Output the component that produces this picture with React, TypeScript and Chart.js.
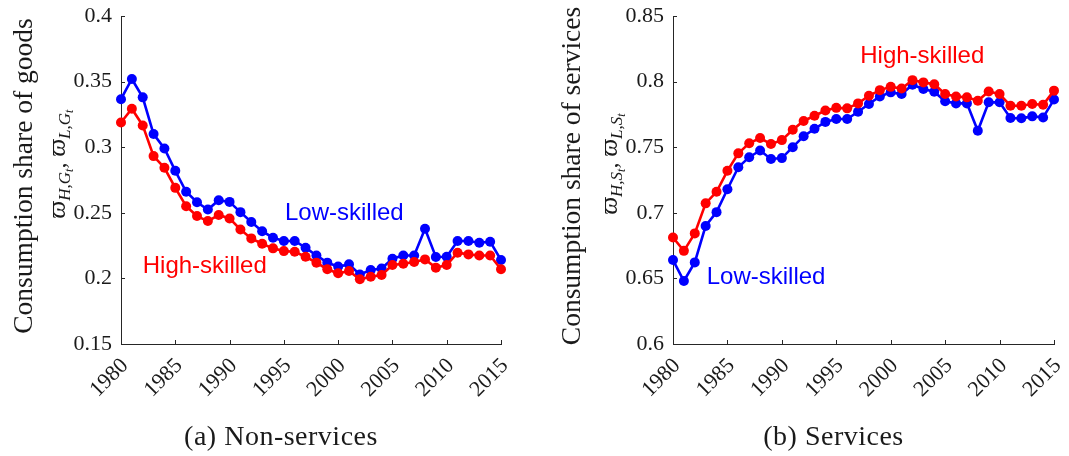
import React, { useEffect, useRef } from "react";
import { Chart, registerables } from "chart.js";

Chart.register(...registerables);

// ---------------- data ----------------
const years = [
  1980, 1981, 1982, 1983, 1984, 1985, 1986, 1987, 1988, 1989,
  1990, 1991, 1992, 1993, 1994, 1995, 1996, 1997, 1998, 1999,
  2000, 2001, 2002, 2003, 2004, 2005, 2006, 2007, 2008, 2009,
  2010, 2011, 2012, 2013, 2014, 2015,
];

const goodsLow = [
  0.3366, 0.352, 0.338, 0.31, 0.299, 0.282, 0.266, 0.258, 0.2525, 0.2596,
  0.2583, 0.2505, 0.243, 0.236, 0.231, 0.2285, 0.2285, 0.2234, 0.2175, 0.212,
  0.209, 0.2107, 0.203, 0.2064, 0.2075, 0.215, 0.2175, 0.2175, 0.2378, 0.2163,
  0.2165, 0.2285, 0.2285, 0.2272, 0.228, 0.214,
];

const goodsHigh = [
  0.3188, 0.3293, 0.3166, 0.2932, 0.2843, 0.269, 0.255, 0.2475, 0.2437, 0.2483,
  0.2457, 0.2373, 0.2305, 0.2264, 0.2229, 0.2208, 0.2203, 0.2165, 0.212, 0.207,
  0.2039, 0.2056, 0.1993, 0.2013, 0.2026, 0.2102, 0.2112, 0.2125, 0.2145, 0.2082,
  0.2102, 0.2196, 0.2183, 0.2175, 0.2175, 0.207,
];

const servLow = [
  0.664, 0.648, 0.6622, 0.69, 0.7005, 0.718, 0.7347, 0.7424, 0.7475, 0.741,
  0.7417, 0.75, 0.7584, 0.764, 0.7693, 0.7715, 0.7715, 0.777, 0.7829, 0.7887,
  0.7918, 0.7905, 0.7976, 0.7943, 0.7923, 0.785, 0.7834, 0.7834, 0.7625, 0.7842,
  0.7842, 0.7722, 0.772, 0.7735, 0.7727, 0.7863,
];

const servHigh = [
  0.6812, 0.671, 0.6843, 0.7072, 0.716, 0.732, 0.7453, 0.753, 0.757, 0.7524,
  0.7554, 0.7633, 0.77, 0.774, 0.778, 0.78, 0.7796, 0.7834, 0.7892, 0.7935,
  0.796, 0.7948, 0.8011, 0.7994, 0.798, 0.7905, 0.7887, 0.788, 0.7854, 0.7925,
  0.7905, 0.7816, 0.7816, 0.7829, 0.7823, 0.7931,
];

const xTicks = [1980, 1985, 1990, 1995, 2000, 2005, 2010, 2015];
const yTicksGoods = [0.15, 0.2, 0.25, 0.3, 0.35, 0.4];
const yTicksServ = [0.6, 0.65, 0.7, 0.75, 0.8, 0.85];

const seriesNames = ["High-skilled", "Low-skilled"];

// ---------------- styles ----------------
const BLUE = "#0000ff";
const RED = "#ff0000";
const AXIS = "#262626";
const TEXT = "#1a1a1a";
const SERIF = "'Liberation Serif', 'DejaVu Serif', serif";
const SANS = "'Liberation Sans', Arial, sans-serif";

type Label = { text: string; color: string; x: number; y: number };
type MathPart = { t: string; size: number; dy: number; italic: boolean };

function mathParts(sub: string): MathPart[] {
  return [
    { t: "ϖ", size: 25, dy: 0, italic: true },
    { t: "H,", size: 17, dy: 5, italic: true },
    { t: sub, size: 17, dy: 5, italic: true },
    { t: "t", size: 12, dy: 8, italic: true },
    { t: ", ", size: 24, dy: 0, italic: false },
    { t: "ϖ", size: 25, dy: 0, italic: true },
    { t: "L,", size: 17, dy: 5, italic: true },
    { t: sub, size: 17, dy: 5, italic: true },
    { t: "t", size: 12, dy: 8, italic: true },
  ];
}

const decorPlugin = {
  id: "decor",
  beforeDatasetsDraw(chart: any) {
    const ctx = chart.ctx;
    const { bottom, left } = chart.chartArea;
    const xs = chart.scales.x;
    const ys = chart.scales.y;
    const TL = 4;
    ctx.save();
    ctx.strokeStyle = AXIS;
    ctx.lineWidth = 1;
    xs.ticks.forEach((t: any) => {
      const px = Math.round(xs.getPixelForValue(t.value)) + 0.5;
      ctx.beginPath();
      ctx.moveTo(px, bottom);
      ctx.lineTo(px, bottom - TL);
      ctx.stroke();
    });
    ys.ticks.forEach((t: any) => {
      const py = Math.round(ys.getPixelForValue(t.value)) + 0.5;
      ctx.beginPath();
      ctx.moveTo(left, py);
      ctx.lineTo(left + TL, py);
      ctx.stroke();
    });
    ctx.restore();
  },
  afterDraw(chart: any, _args: any, opts: any) {
    const ctx = chart.ctx;
    const area = chart.chartArea;
    const xs = chart.scales.x;
    const ys = chart.scales.y;
    ctx.save();

    // series labels placed in data coordinates
    (opts.labels as Label[]).forEach((l) => {
      ctx.font = `24px ${SANS}`;
      ctx.fillStyle = l.color;
      ctx.textAlign = "left";
      ctx.textBaseline = "middle";
      ctx.fillText(l.text, xs.getPixelForValue(l.x), ys.getPixelForValue(l.y));
    });

    // y title line 1
    ctx.save();
    ctx.translate(area.left + opts.titleDx, (area.top + area.bottom) / 2 - 4);
    ctx.rotate(-Math.PI / 2);
    ctx.font = `27.5px ${SERIF}`;
    ctx.fillStyle = TEXT;
    ctx.textAlign = "center";
    ctx.textBaseline = "middle";
    ctx.fillText(opts.title, 0, 0);
    ctx.restore();

    // y title line 2 (math)
    const parts: MathPart[] = opts.math;
    const fontOf = (p: MathPart) => `${p.italic ? "italic " : ""}${p.size}px ${SERIF}`;
    let total = 0;
    parts.forEach((p) => {
      ctx.font = fontOf(p);
      total += ctx.measureText(p.t).width;
    });
    ctx.save();
    ctx.translate(area.left + opts.mathDx, (area.top + area.bottom) / 2 - 16);
    ctx.rotate(-Math.PI / 2);
    ctx.fillStyle = TEXT;
    ctx.textAlign = "left";
    ctx.textBaseline = "alphabetic";
    let cx = -total / 2;
    parts.forEach((p) => {
      ctx.font = fontOf(p);
      ctx.fillText(p.t, cx, 5 + p.dy);
      cx += ctx.measureText(p.t).width;
    });
    ctx.restore();

    // caption
    ctx.font = `28px ${SERIF}`;
    (ctx as any).letterSpacing = "0.5px";
    ctx.fillStyle = TEXT;
    ctx.textAlign = "center";
    ctx.textBaseline = "middle";
    ctx.fillText(opts.caption, (area.left + area.right) / 2 - 30, 438);

    ctx.restore();
  },
};

type PanelProps = {
  width: number;
  low: number[];
  high: number[];
  yTicks: number[];
  title: string;
  sub: string;
  caption: string;
  labels: Label[];
  axisLeft: number;
  padRight: number;
  titleDx: number;
  mathDx: number;
};

function Panel(p: PanelProps) {
  const ref = useRef<HTMLCanvasElement>(null);
  useEffect(() => {
    if (!ref.current) return;
    const pts = (vals: number[]) => years.map((y, i) => ({ x: y, y: vals[i] }));
    const chart = new Chart(ref.current, {
      type: "line",
      data: {
        datasets: [
          {
            label: seriesNames[0],
            data: pts(p.high),
            borderColor: RED,
            backgroundColor: RED,
            borderWidth: 2.6,
            pointRadius: 5,
            pointBorderWidth: 0,
            pointBackgroundColor: RED,
            tension: 0,
            clip: false as any,
          },
          {
            label: seriesNames[1],
            data: pts(p.low),
            borderColor: BLUE,
            backgroundColor: BLUE,
            borderWidth: 2.6,
            pointRadius: 5,
            pointBorderWidth: 0,
            pointBackgroundColor: BLUE,
            tension: 0,
            clip: false as any,
          },
        ],
      },
      options: {
        responsive: false,
        animation: false,
        events: [],
        layout: { padding: { top: 16, right: p.padRight, left: 0, bottom: 0 } },
        plugins: {
          legend: { display: false },
          tooltip: { enabled: false },
          decor: {
            labels: p.labels,
            title: p.title,
            math: mathParts(p.sub),
            caption: p.caption,
            titleDx: p.titleDx,
            mathDx: p.mathDx,
          },
        } as any,
        scales: {
          x: {
            type: "linear",
            min: xTicks[0],
            max: xTicks[xTicks.length - 1],
            afterBuildTicks: (s: any) => {
              s.ticks = xTicks.map((v) => ({ value: v }));
            },
            afterFit: (s: any) => {
              s.height = 112;
              s.paddingLeft = 0;
              s.paddingRight = 0;
              s.paddingTop = 0;
              s.paddingBottom = 0;
            },
            grid: { display: false, drawTicks: false },
            border: { display: true, color: AXIS, width: 1 },
            ticks: {
              minRotation: 45,
              maxRotation: 45,
              autoSkip: false,
              padding: 9,
              labelOffset: 4,
              color: TEXT,
              font: { family: SERIF, size: 22 },
              callback: (v: any) => String(v),
            },
          },
          y: {
            type: "linear",
            min: p.yTicks[0],
            max: p.yTicks[p.yTicks.length - 1],
            afterBuildTicks: (s: any) => {
              s.ticks = p.yTicks.map((v) => ({ value: v }));
            },
            afterFit: (s: any) => {
              s.width = p.axisLeft;
              s.paddingTop = 0;
              s.paddingBottom = 0;
            },
            grid: { display: false, drawTicks: false },
            border: { display: true, color: AXIS, width: 1 },
            ticks: {
              padding: 9,
              color: TEXT,
              font: { family: SERIF, size: 22 },
              callback: (v: any) => String(Math.round(v * 100) / 100),
            },
          },
        },
      },
      plugins: [decorPlugin],
    });
    return () => chart.destroy();
  }, []);
  return (
    <canvas
      ref={ref}
      width={p.width}
      height={456}
      style={{ width: p.width, height: 456, display: "block" }}
    />
  );
}

export default function App() {
  return (
    <div
      style={{
        position: "absolute",
        left: 0,
        top: 0,
        width: 1069,
        height: 456,
        display: "flex",
        background: "#fff",
      }}
    >
      <Panel
        width={535}
        low={goodsLow}
        high={goodsHigh}
        yTicks={yTicksGoods}
        title="Consumption share of goods"
        sub="G"
        caption="(a) Non-services"
        labels={[
          { text: "Low-skilled", color: BLUE, x: 1995.1, y: 0.2495 },
          { text: "High-skilled", color: RED, x: 1982.0, y: 0.2092 },
        ]}
        axisLeft={121}
        padRight={34}
        titleDx={-96}
        mathDx={-61}
      />
      <Panel
        width={534}
        low={servLow}
        high={servHigh}
        yTicks={yTicksServ}
        title="Consumption share of services"
        sub="S"
        caption="(b) Services"
        labels={[
          { text: "High-skilled", color: RED, x: 1997.2, y: 0.8196 },
          { text: "Low-skilled", color: BLUE, x: 1983.1, y: 0.651 },
        ]}
        axisLeft={138}
        padRight={15}
        titleDx={-100}
        mathDx={-61}
      />
    </div>
  );
}
